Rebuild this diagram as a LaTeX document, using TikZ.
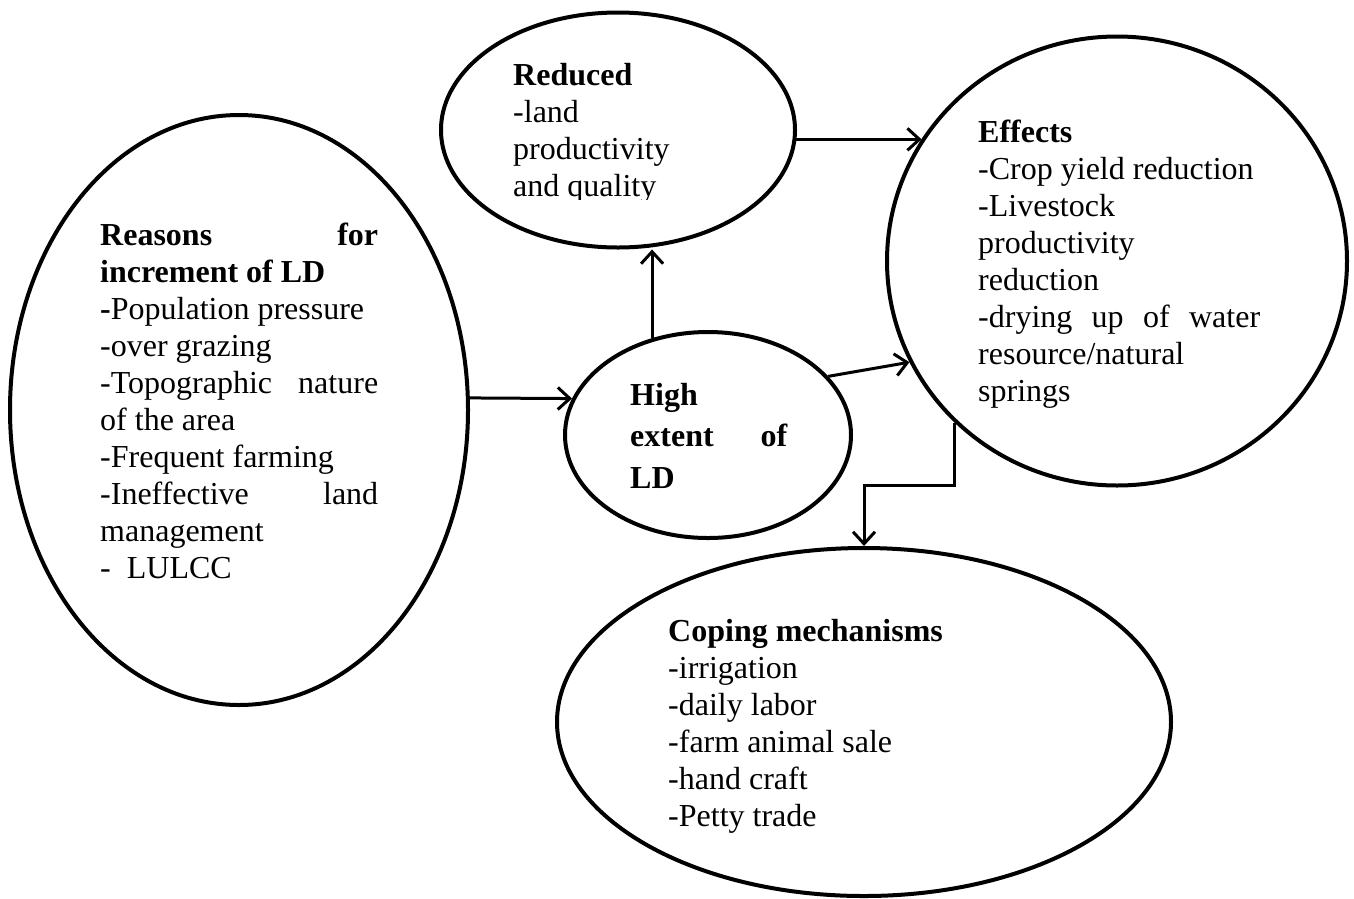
\documentclass[tikz,border=0pt]{standalone}
\usepackage{fontspec}
\setmainfont{Liberation Serif}
\usetikzlibrary{shapes.geometric,arrows.meta}
\begin{document}
\begin{tikzpicture}[x=1pt,y=-1pt,
  ell/.style={draw, ellipse, line width=4pt, inner sep=0pt},
  txt/.style={anchor=base west, inner sep=0pt, align=left, font=\fontsize{32}{37}\selectfont},
  arr/.style={line width=3pt, -{Straight Barb[length=12pt,width=22pt]}}]
\useasboundingbox (0,0) rectangle (1354,898);

% ellipses
\node[ell, minimum width=458pt, minimum height=590pt] (reasons) at (239,410) {};
\node[ell, minimum width=354pt, minimum height=235pt] (red) at (618,130) {};
\node[ell, minimum width=460pt, minimum height=449pt] (eff) at (1117,261) {};
\node[ell, minimum width=286pt, minimum height=206pt] (high) at (708,435) {};
\node[ell, minimum width=614pt, minimum height=348pt] (cope) at (864,722) {};

% texts (anchored at the baseline of the last line)
\node[txt] (reasonsT) at (100,578) {%
\makebox[278pt][s]{\textbf{Reasons for}}\\
\textbf{increment of LD}\\
\textbf{-}Population pressure\\
-over grazing\\
\makebox[278pt][s]{-Topographic nature}\\
of the area\\
-Frequent farming\\
\makebox[278pt][s]{-Ineffective land}\\
management\\
-\ \ LULCC};

\begin{scope}
\clip (440,0) rectangle (800,199);
\node[txt] (redT) at (513,196) {%
\textbf{Reduced}\\
-land\\
productivity\\
and quality};
\end{scope}

\node[txt, font=\fontsize{32}{41.5}\selectfont\bfseries] (highT) at (630,488) {%
High\\
\makebox[157pt][s]{extent of}\\
LD};

\node[txt] (effT) at (978,401) {%
\textbf{Effects}\\
-Crop yield reduction\\
-Livestock\\
productivity\\
reduction\\
\makebox[282pt][s]{-drying up of water}\\
resource/natural\\
springs};

\node[txt] (copeT) at (668,826) {%
\textbf{Coping mechanisms}\\
-irrigation\\
-daily labor\\
-farm animal sale\\
-hand craft\\
-Petty trade};

% connectors
\draw[arr] (reasons.3.5) -- (high.165);
\draw[arr] (high.120) -- (high.120 |- red.south);
\draw[arr] (red.-3) -- (red.-3 -| eff.148);
\draw[arr] (high.26) -- (eff.206.3);
\draw[arr] (eff.225) -- ++(0,62) -| (cope.north);
\end{tikzpicture}
\end{document}
